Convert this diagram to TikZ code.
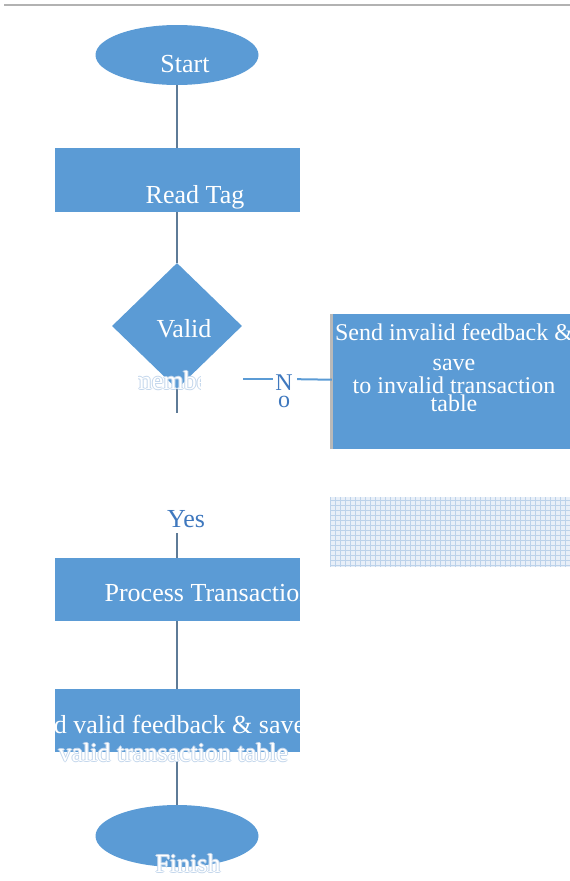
\documentclass[tikz,border=0pt]{standalone}
\usepackage{fontspec}
\setmainfont{Liberation Serif}
\usepackage{tikz}
\usetikzlibrary{shapes.geometric}
\definecolor{boxblue}{HTML}{5B9BD5}
\definecolor{linegray}{HTML}{5E7B97}
\definecolor{labelblue}{HTML}{3F78BE}
\definecolor{haloblue}{HTML}{C4D7EC}
\definecolor{hatchblue}{HTML}{BCD2EA}
\tikzset{
terminal/.style={shape=ellipse, fill=boxblue, minimum width=163pt, minimum height=60pt, inner sep=0pt},
process/.style={shape=rectangle, fill=boxblue, minimum width=245pt, minimum height=64pt, inner sep=0pt},
decision/.style={shape=diamond, fill=boxblue, minimum width=130pt, minimum height=126pt, inner sep=0pt},
txt/.style={text=white, font=\fontsize{26}{30}\selectfont, inner sep=0pt, anchor=base},
halotext/.style={txt, text=haloblue},
connector/.style={draw=linegray, line width=1.6pt},
noline/.style={draw=boxblue, line width=2pt}}

\begin{document}
\begin{tikzpicture}[x=1pt,y=-1pt]
    \useasboundingbox (0,0) rectangle (570,881);
    \draw[gray!60, line width=2pt] (4,5) -- (570,5);

                \node[terminal] (Start) at (177,55) {};
                \node[process] (ReadTag) at (177,180) {};
                \node[decision] (Valid) at (177,326) {};
                \node[process, minimum width=238pt, minimum height=135pt] (SendInvalid) at (451,381.5) {};
                \node[process, minimum height=63pt] (Process) at (177,589.5) {};
                \node[process, minimum height=63pt] (SendValid) at (177,720.5) {};
                \node[terminal, minimum height=62pt] (Finish) at (177,836) {};
                \draw[gray!55, line width=3pt] (SendInvalid.north west) -- (SendInvalid.south west);

                \fill[hatchblue!35] (330,497) rectangle (570,567);
                \draw[hatchblue, line width=0.6pt, step=5pt] (330,497) grid (570,567);

                \coordinate (validEnd) at (177,413);
                \coordinate (yesTop) at (177,533);
                \coordinate (noStart) at (243,379);
                \node[inner sep=0pt, minimum width=24pt, minimum height=2pt] (noGap) at (285,379) {};

                \draw[connector] (Start) -- (ReadTag);
                \draw[connector] (ReadTag) -- (Valid);
                \draw[connector] (Valid) -- (validEnd);
                \draw[connector] (yesTop) -- (Process);
                \draw[connector] (Process) -- (SendValid);
                \draw[connector] (SendValid) -- (Finish);
                \draw[noline] (noStart) -- (noGap);
                \draw[noline] (noGap) -- (SendInvalid);

                \node[txt] (startText) at (185,72) {Start};
                \node[txt] (readText) at (195,203) {Read Tag};
                \node[txt] (validText) at (184,337) {Valid};
                \begin{scope}
                \clip (138,360) rectangle (200,400);
                \foreach \dx/\dy [count=\k] in {-1/0,1/0,0/-1,0/1}
                    \node[halotext] (memberHalo\k) at (180+\dx,389+\dy) {member?};
                \node[txt] (memberText) at (180,389) {member?};
                \end{scope}
                \node[txt, text=labelblue, font=\fontsize{24}{17}\selectfont, align=center] (noText) at (284,407) {N\\o};
                \node[txt, text=labelblue] (yesText) at (186,527) {Yes};
                \node[txt, font=\fontsize{24}{30.7}\selectfont, align=center] (invText1) at (454,370.7) {Send invalid feedback \&\\save};
                \node[txt, font=\fontsize{24}{15}\selectfont, align=center] (invText2) at (454,411.7) {to invalid transaction\\table};
                \node[txt] (procText) at (208.5,601) {Process Transaction};
                \node[txt] (sendText) at (160,733) {Send valid feedback \& save};
                \begin{scope}
                \clip (54,740) rectangle (300,775);
                \foreach \dx/\dy [count=\k] in {-1/0,1/0,0/-1,0/1}
                    \node[halotext] (tableHalo\k) at (160+\dx,761+\dy) {to valid transaction table};
                \end{scope}
                \node[txt] (tableText) at (160,761) {to valid transaction table};
                \foreach \dx/\dy [count=\k] in {-1/0,1/0,0/-1,0/1}
                    \node[halotext] (finishHalo\k) at (188+\dx,872+\dy) {Finish};
                \node[txt] (finishText) at (188,872) {Finish};

            \end{tikzpicture}
\end{document}
